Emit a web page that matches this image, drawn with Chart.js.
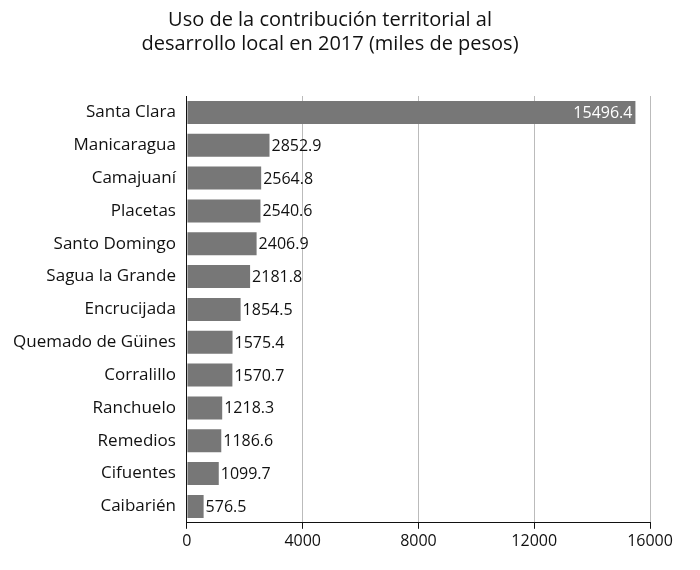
<!DOCTYPE html>
<html><head><meta charset="utf-8">
<script src="https://cdn.jsdelivr.net/npm/chart.js"></script>
<style>body{margin:0;background:#fff}#wrap{width:700px;height:570px}</style>
</head><body><div id="wrap"><canvas id="c"></canvas></div>
<script>
var municipios = ['Santa Clara','Manicaragua','Camajuaní','Placetas','Santo Domingo','Sagua la Grande','Encrucijada','Quemado de Güines','Corralillo','Ranchuelo','Remedios','Cifuentes','Caibarién'];
var valores = [15496.4,2852.9,2564.8,2540.6,2406.9,2181.8,1854.5,1575.4,1570.7,1218.3,1186.6,1099.7,576.5];
var tituloLineas = ['Uso de la contribución territorial al','desarrollo local en 2017 (miles de pesos)'];

var fuente = 'Open Sans';
var etiquetas = {
  id: 'etiquetas',
  afterDatasetsDraw: function(chart) {
    var ctx = chart.ctx;
    var meta = chart.getDatasetMeta(0);
    ctx.save();
    ctx.font = '16px "' + fuente + '"';
    ctx.textBaseline = 'middle';
    meta.data.forEach(function(bar, i) {
      var txt = valores[i].toFixed(1);
      if (valores[i] > 10000) {
        ctx.fillStyle = '#fff'; ctx.textAlign = 'right';
        ctx.fillText(txt, bar.x - 3, bar.y + 1);
      } else {
        ctx.fillStyle = '#111'; ctx.textAlign = 'left';
        ctx.fillText(txt, bar.x + 2, bar.y + 1);
      }
    });
    ctx.restore();
  }
};

new Chart(document.getElementById('c').getContext('2d'), {
  type: 'bar',
  data: { labels: municipios, datasets: [{ data: valores, backgroundColor: '#777777', barPercentage: 0.7, categoryPercentage: 1 }] },
  options: {
    indexAxis: 'y', responsive: true, maintainAspectRatio: false, animation: false,
    layout: { padding: { top: 8, right: 50, bottom: 16, left: 10 } },
    plugins: {
      legend: { display: false }, tooltip: { enabled: false },
      title: { display: true, text: tituloLineas, color: '#111', font: { family: fuente, size: 20, weight: 'normal' }, padding: { top: 0, bottom: 40 }, lineHeight: 1.15 }
    },
    scales: {
      x: { min: 0, max: 16000, ticks: { stepSize: 4000, color: '#111', font: { family: fuente, size: 16 }, callback: function(v) { return String(v); } },
           grid: { color: '#bbb', drawTicks: true, tickColor: '#111', tickLength: 6 }, border: { color: '#111' } },
      y: { ticks: { color: '#111', font: { family: fuente, size: 17 } },
           grid: { display: false }, border: { color: '#111' } }
    }
  },
  plugins: [etiquetas]
});
</script></body></html>
